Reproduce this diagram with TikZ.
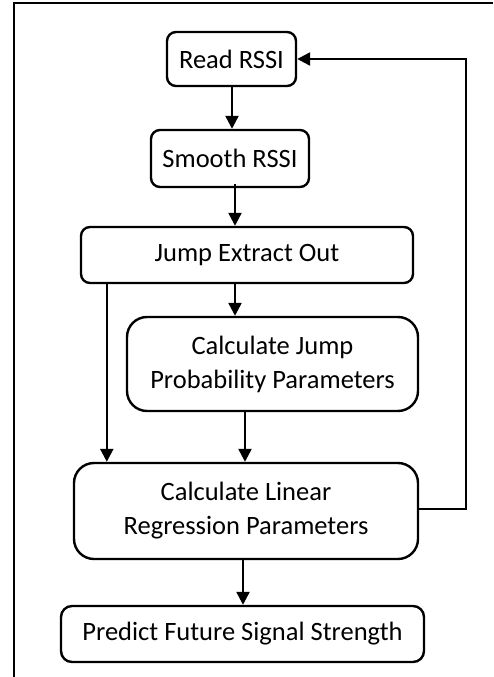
\documentclass[tikz,border=0pt]{standalone}
\usepackage{fontspec}
\setmainfont{Carlito}
\usetikzlibrary{arrows.meta,calc}
\begin{document}
\begin{tikzpicture}[x=1pt,y=-1pt,
  box/.style={draw,line width=2.4pt,align=center,inner sep=0pt,
    font=\fontsize{26.5}{34}\selectfont},
  arr/.style={line width=2.4pt,-{Triangle[length=13pt,width=13pt]}},
  frame/.style={line width=1.8pt}]
\useasboundingbox (0,0) rectangle (493,677);
\coordinate (ftr) at (493,3);
\coordinate (ftl) at (14,3);
\coordinate (fbl) at (14,677);
\draw[frame] (ftr) -- (ftl) -- (fbl);
\node[box,rounded corners=9pt,minimum width=129pt,minimum height=54pt] (read) at (231.5,59) {Read RSSI};
\node[box,rounded corners=9pt,minimum width=158pt,minimum height=57pt] (smooth) at (230,158.5) {Smooth RSSI};
\node[box,rounded corners=9pt,minimum width=332pt,minimum height=56pt] (jump) at (247,255) {Jump Extract Out};
\node[box,rounded corners=20pt,minimum width=291pt,minimum height=94pt] (calcj) at (272.5,364) {Calculate Jump\\Probability Parameters};
\node[box,rounded corners=20pt,minimum width=344pt,minimum height=96pt] (linear) at (246,511) {Calculate Linear\\Regression Parameters};
\node[box,rounded corners=11pt,minimum width=363pt,minimum height=56pt] (predict) at (242.5,634) {Predict Future Signal Strength};
\coordinate (fb1) at (466,509);
\coordinate (fb2) at (466,59);
\draw[arr] ([xshift=0.5pt]read.south) -- ([xshift=0.5pt]read.south |- smooth.north);
\draw[arr] ([xshift=5pt,yshift=4pt]smooth.south) -- ([xshift=5pt]smooth.south |- jump.north);
\draw[arr] ([xshift=-12pt]jump.south) -- ([xshift=-12pt]jump.south |- calcj.north);
\draw[arr] ([xshift=-27.5pt]calcj.south) -- ([xshift=-27.5pt]calcj.south |- linear.north);
\draw[arr] ([xshift=27pt]jump.south west) -- ([xshift=27pt]jump.south west |- linear.north);
\draw[arr] ([xshift=-3pt]linear.south) -- ([xshift=-3pt]linear.south |- predict.north);
\draw[arr] (linear.east |- fb1) -- (fb1) -- (fb2) -- (read.east);
\end{tikzpicture}
\end{document}
